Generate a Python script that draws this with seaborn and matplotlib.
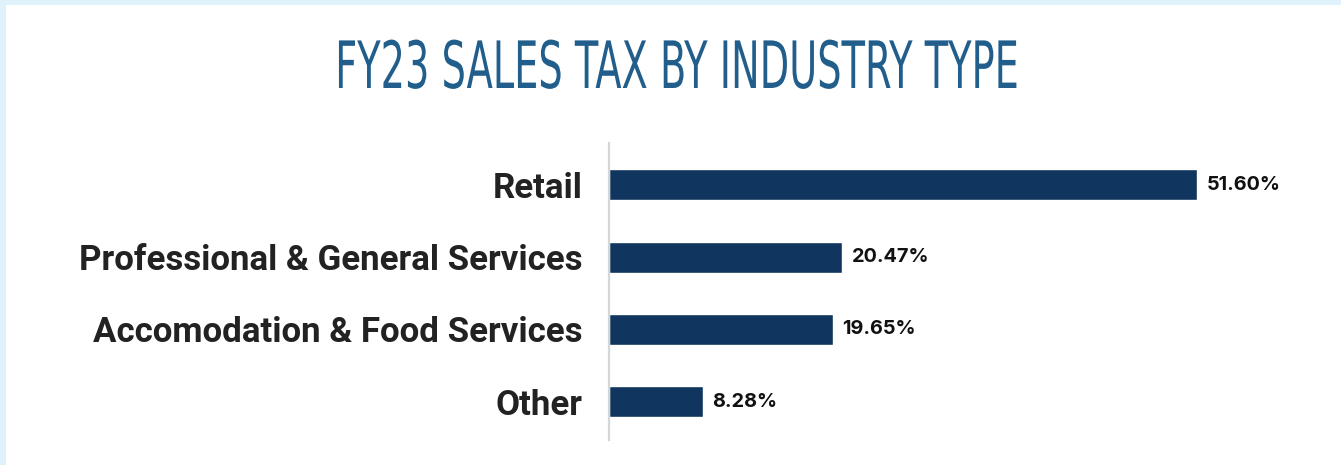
import matplotlib
matplotlib.use("Agg")
import matplotlib.pyplot as plt
import seaborn as sns
import pandas as pd
from matplotlib.patches import Rectangle
from matplotlib.patheffects import AbstractPathEffect
from matplotlib.transforms import Affine2D

categories = ["Retail", "Professional & General Services", "Accomodation & Food Services", "Other"]
shares = [51.60, 20.47, 19.65, 8.28]
value_labels = ["51.60%", "20.47%", "19.65%", "8.28%"]
title = "FY23 SALES TAX BY INDUSTRY TYPE"

df = pd.DataFrame({"category": categories, "share": shares})

sns.set_style("white")
plt.rcParams["font.family"] = ["Roboto", "DejaVu Sans"]

W, H = 1341, 465
fig = plt.figure(figsize=(W / 100, H / 100), dpi=100)
fig.patch.set_facecolor("white")

# light blue frame strips (top and left)
fig.add_artist(Rectangle((0, 1 - 5 / H), 1, 5 / H, transform=fig.transFigure,
                         facecolor="#DFF2FB", edgecolor="none", zorder=0))
fig.add_artist(Rectangle((0, 0), 6 / W, 1, transform=fig.transFigure,
                         facecolor="#DFF2FB", edgecolor="none", zorder=0))

ax = fig.add_axes([609 / W, 1 - 440 / H, 684 / W, (440 - 143) / H])
sns.barplot(data=df, x="share", y="category", order=categories, color="#10365F",
            saturation=1, width=0.43, ax=ax, orient="h")

ax.set_xlim(0, 60)
ax.set_ylim(3.53, -0.58)
ax.set_xlabel("")
ax.set_ylabel("")
ax.set_xticks([])
for s in ["top", "right", "bottom"]:
    ax.spines[s].set_visible(False)
ax.spines["left"].set_color("#D3D7D7")
ax.spines["left"].set_linewidth(1.6)
ax.tick_params(axis="y", length=0, pad=19)
for lab in ax.get_yticklabels():
    lab.set_fontsize(25.1)
    lab.set_fontweight("bold")
    lab.set_color("#222222")

for i, (v, t) in enumerate(zip(shares, value_labels)):
    ax.text(v + 0.8, i, t, va="center", ha="left", fontsize=14.3,
            fontweight="bold", color="#111111",
            family=["Inter", "Roboto", "DejaVu Sans"])


class Squeeze(AbstractPathEffect):
    """Condense glyphs horizontally around a centre x (display pixels)."""
    def __init__(self, sx, cx):
        super().__init__()
        self.sx = sx
        self.cx = cx

    def draw_path(self, renderer, gc, tpath, affine, rgbFace=None):
        aff = affine + Affine2D().translate(-self.cx, 0).scale(self.sx, 1).translate(self.cx, 0)
        renderer.draw_path(gc, tpath, aff, rgbFace)


title_cx = 677
fig.text(title_cx / W, 1 - 70 / H, title, ha="center", va="center", fontsize=47,
         color="#215E8B", family=["DejaVu Sans"],
         path_effects=[Squeeze(0.587, title_cx)])

fig.savefig("out.png", dpi=100, facecolor="white")
